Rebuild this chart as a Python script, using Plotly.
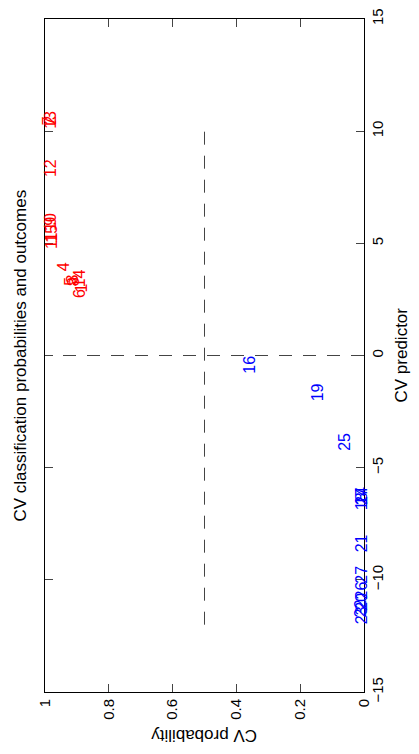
import plotly.graph_objects as go

# Cross-validated results per sample: predictor score and class probability
sample_ids = list(range(1, 28))
cv_predictor = [
    2.77, 10.25, 3.15, 3.73, 3.07, 2.50, 10.20, 3.05, 5.75, 5.50,
    4.70, 7.90, 10.05, 3.00, 5.00,
    -0.85, -6.70, -6.95, -2.10, -11.40, -8.80, -11.70, -12.00, -6.70, -4.30,
    -10.90, -10.20,
]
cv_probability = [
    0.885, 0.985, 0.915, 0.944, 0.920, 0.890, 0.990, 0.910, 0.985, 0.985,
    0.980, 0.985, 0.985, 0.893, 0.980,
    0.360, 0.008, 0.007, 0.145, 0.008, 0.008, 0.008, 0.008, 0.006, 0.060,
    0.008, 0.008,
]
# outcome class: 1 = positive (red), 0 = negative (blue)
outcome = [1] * 15 + [0] * 12

prob_ticks = [0, 0.2, 0.4, 0.6, 0.8, 1]
prob_ticktext = ["0", "0.2", "0.4", "0.6", "0.8", "1"]
pred_ticks = [-15, -10, -5, 0, 5, 10, 15]
pred_ticktext = ["\u221215", "\u221210", "\u22125", "0", "5", "10", "15"]

FONT = "Liberation Sans, Arial, Helvetica, sans-serif"
DASH_COLOR = "#444444"

fig = go.Figure()

# decision threshold at probability 0.5, spanning the range of predictor scores
fig.add_trace(go.Scatter(
    x=[0.5, 0.5], y=[min(cv_predictor), max(cv_predictor)],
    mode="lines", line=dict(color=DASH_COLOR, width=1, dash="13px,11px"),
    hoverinfo="skip", showlegend=False,
))
# predictor = 0 boundary across the full probability range
fig.add_trace(go.Scatter(
    x=[0, 1], y=[0, 0],
    mode="lines", line=dict(color=DASH_COLOR, width=1, dash="13px,11px"),
    hoverinfo="skip", showlegend=False,
))

# sample numbers drawn at (probability, predictor)
annotations = []
for sid, pr, pb, oc in zip(sample_ids, cv_predictor, cv_probability, outcome):
    annotations.append(dict(
        x=pb, y=pr, xref="x", yref="y",
        text=str(sid), showarrow=False, textangle=-90,
        xanchor="center", yanchor="bottom", borderpad=0,
        font=dict(family=FONT, size=16, color="#ff0000" if oc == 1 else "#0000ff"),
    ))

annotations += [
    dict(text="CV classification probabilities and outcomes",
         xref="paper", yref="paper", x=(20 - 45) / 319, y=0.5,
         xanchor="center", yanchor="middle", textangle=-90, showarrow=False,
         font=dict(family=FONT, size=17, color="black")),
    dict(text="CV predictor",
         xref="paper", yref="paper", x=(401 - 45) / 319, y=0.5,
         xanchor="center", yanchor="middle", textangle=-90, showarrow=False,
         font=dict(family=FONT, size=17, color="black")),
    dict(text="CV probability",
         xref="paper", yref="paper", x=0.5, y=(692 - 736) / 684,
         xanchor="center", yanchor="middle", textangle=180, showarrow=False,
         font=dict(family=FONT, size=17, color="black")),
]

fig.update_layout(
    width=419, height=754,
    margin=dict(l=45, r=55, t=8, b=62),
    paper_bgcolor="white", plot_bgcolor="white",
    showlegend=False,
    annotations=annotations,
    xaxis=dict(
        range=[1, 0], tickvals=prob_ticks, ticktext=prob_ticktext,
        tickangle=-90, ticks="inside", ticklen=8, tickcolor="#444444",
        showline=True, linecolor="black", linewidth=1, mirror="ticks",
        showgrid=False, zeroline=False, ticklabeloverflow="allow",
        tickfont=dict(family=FONT, size=15, color="black"),
    ),
    yaxis=dict(
        range=[-15, 15], tickvals=pred_ticks, ticktext=pred_ticktext, side="right",
        tickangle=-90, ticks="inside", ticklen=8, tickcolor="#444444",
        showline=True, linecolor="black", linewidth=1, mirror="ticks",
        showgrid=False, zeroline=False, ticklabeloverflow="allow",
        tickfont=dict(family=FONT, size=15, color="black"),
    ),
)

fig.write_html("out.html")
